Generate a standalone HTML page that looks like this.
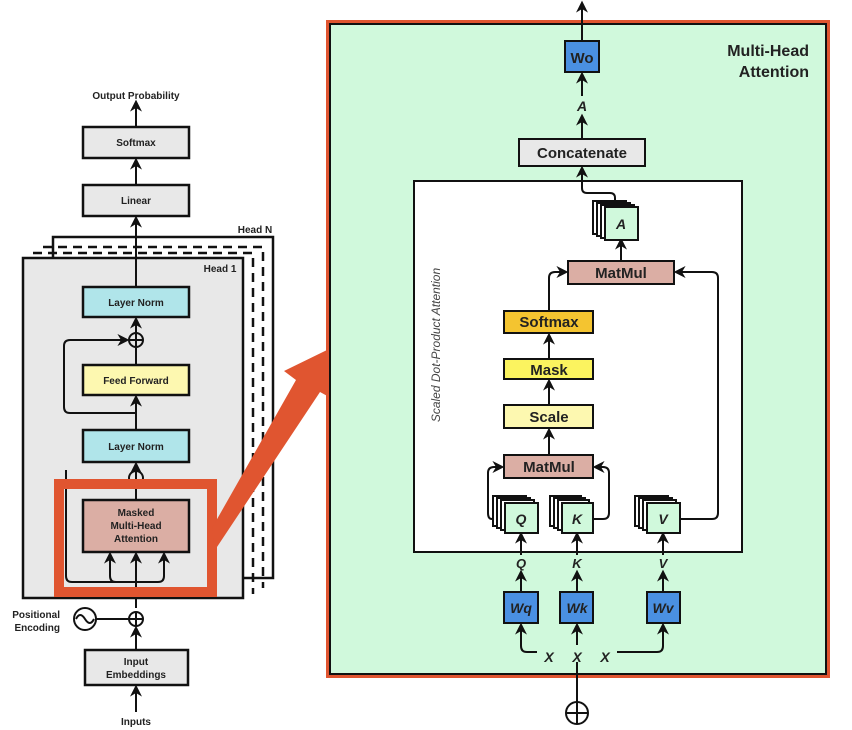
<!DOCTYPE html>
<html><head><meta charset="utf-8"><style>body{margin:0;background:#fff}svg{display:block;font-family:"Liberation Sans",sans-serif}</style></head><body>
<svg width="852" height="730" viewBox="0 0 852 730" xmlns="http://www.w3.org/2000/svg">
<defs>
<marker id="ar" viewBox="0 0 10 10" refX="8" refY="5" markerWidth="6" markerHeight="6" orient="auto-start-reverse"><path d="M0,0 L10,5 L0,10 L3,5 z" fill="#111"/></marker>
</defs>
<g stroke="#111" stroke-width="2" fill="none">
<line x1="136" y1="127" x2="136" y2="102" marker-end="url(#ar)"/>
<line x1="136" y1="185" x2="136" y2="160" marker-end="url(#ar)"/>
<rect x="53" y="237" width="220" height="341" fill="#fff" stroke-width="2.5"/>
<path d="M43 247 H263 V588" stroke-dasharray="9,6" stroke-width="2.5"/>
<path d="M33 253 H253 V594" stroke-dasharray="9,6" stroke-width="2.5"/>
<rect x="23" y="258" width="220" height="340" fill="#e8e8e8" stroke-width="2.5"/>
<line x1="136" y1="287" x2="136" y2="218" marker-end="url(#ar)"/>
<line x1="136" y1="365" x2="136" y2="348"/>
<line x1="136" y1="333" x2="136" y2="319" marker-end="url(#ar)"/>
<circle cx="136" cy="340" r="7"/><line x1="129" y1="340" x2="143" y2="340"/><line x1="136" y1="333" x2="136" y2="347"/>
<path d="M136 413 H70 Q64 413 64 407 V346 Q64 340 70 340 H127" marker-end="url(#ar)"/>
<line x1="136" y1="430" x2="136" y2="397" marker-end="url(#ar)"/>
<line x1="136" y1="500" x2="136" y2="464" marker-end="url(#ar)"/>
<circle cx="136" cy="478" r="7"/>
<line x1="136" y1="608" x2="136" y2="554" marker-end="url(#ar)"/>
<path d="M66 470 V576 Q66 582 72 582 H136"/>
<path d="M136 582 H116 Q110 582 110 576 V554" marker-end="url(#ar)"/>
<path d="M136 582 H158 Q164 582 164 576 V554" marker-end="url(#ar)"/>
<circle cx="136" cy="619" r="7"/><line x1="129" y1="619" x2="143" y2="619"/><line x1="136" y1="612" x2="136" y2="626"/>
<line x1="96" y1="619" x2="129" y2="619"/>
<circle cx="85" cy="619" r="11"/><path d="M76 619 Q80 611 85 619 Q90 627 94 619"/>
<line x1="136" y1="650" x2="136" y2="628" marker-end="url(#ar)"/>
<line x1="136" y1="712" x2="136" y2="687" marker-end="url(#ar)"/>
</g>
<g stroke="#111" stroke-width="2.5">
<rect x="83" y="127" width="106" height="31" fill="#e8e8e8"/>
<rect x="83" y="185" width="106" height="31" fill="#e8e8e8"/>
<rect x="83" y="287" width="106" height="30" fill="#b0e5ea"/>
<rect x="83" y="365" width="106" height="30" fill="#fdf8b0"/>
<rect x="83" y="430" width="106" height="32" fill="#b0e5ea"/>
<rect x="83" y="500" width="106" height="52" fill="#dbaea4"/>
<rect x="85" y="650" width="103" height="35" fill="#e8e8e8"/>
</g>
<rect x="59" y="484" width="153" height="108" fill="none" stroke="#e05530" stroke-width="10"/>
<polygon points="212,528 296,380 284,371 327,350 331,398 320,392 215,550" fill="#e05530"/>
<g font-weight="bold" font-size="10" fill="#222" text-anchor="middle">
<text x="136" y="99">Output Probability</text>
<text x="136" y="146">Softmax</text>
<text x="136" y="204">Linear</text>
<text x="136" y="306">Layer Norm</text>
<text x="136" y="384">Feed Forward</text>
<text x="136" y="450">Layer Norm</text>
<text x="136" y="516">Masked</text><text x="136" y="529">Multi-Head</text><text x="136" y="542">Attention</text>
<text x="136" y="665">Input</text><text x="136" y="678">Embeddings</text>
<text x="136" y="725">Inputs</text>
<text x="255" y="233">Head N</text>
<text x="220" y="272">Head 1</text>
<text x="60" y="618" text-anchor="end">Positional</text><text x="60" y="631" text-anchor="end">Encoding</text>
</g>
<rect x="326" y="20" width="504" height="658" fill="#e05530"/>
<rect x="330" y="24" width="496" height="650" fill="#d0f9dc" stroke="#111" stroke-width="2"/>
<g stroke="#111" stroke-width="2" fill="none">
<line x1="582" y1="41" x2="582" y2="3" marker-end="url(#ar)"/>
<line x1="582" y1="96" x2="582" y2="74" marker-end="url(#ar)"/>
<line x1="582" y1="139" x2="582" y2="116" marker-end="url(#ar)"/>
<rect x="414" y="181" width="328" height="371" fill="#fff"/>
<path d="M615 205 V198 Q615 193 610 193 H587 Q582 193 582 188 V168" marker-end="url(#ar)"/>
<line x1="621" y1="261" x2="621" y2="240" marker-end="url(#ar)"/>
<path d="M549 311 V278 Q549 272 555 272 H566" marker-end="url(#ar)"/>
<path d="M680 519 H712 Q718 519 718 513 V278 Q718 272 712 272 H676" marker-end="url(#ar)"/>
<line x1="549" y1="359" x2="549" y2="335" marker-end="url(#ar)"/>
<line x1="549" y1="405" x2="549" y2="381" marker-end="url(#ar)"/>
<line x1="549" y1="455" x2="549" y2="430" marker-end="url(#ar)"/>
<path d="M493 519 H492 Q488 519 488 513 V473 Q488 467 494 467 H502" marker-end="url(#ar)"/>
<path d="M593 519 H603 Q609 519 609 513 V473 Q609 467 603 467 H595" marker-end="url(#ar)"/>
<line x1="521" y1="555" x2="521" y2="534" marker-end="url(#ar)"/>
<line x1="577" y1="555" x2="577" y2="534" marker-end="url(#ar)"/>
<line x1="663" y1="555" x2="663" y2="534" marker-end="url(#ar)"/>
<line x1="521" y1="592" x2="521" y2="572" marker-end="url(#ar)"/>
<line x1="577" y1="592" x2="577" y2="572" marker-end="url(#ar)"/>
<line x1="663" y1="592" x2="663" y2="572" marker-end="url(#ar)"/>
<path d="M537 652 H527 Q521 652 521 646 V625" marker-end="url(#ar)"/>
<line x1="577" y1="645" x2="577" y2="625" marker-end="url(#ar)"/>
<path d="M617 652 H657 Q663 652 663 646 V625" marker-end="url(#ar)"/>
<line x1="577" y1="662" x2="577" y2="702"/>
<circle cx="577" cy="713" r="11"/><line x1="566" y1="713" x2="588" y2="713"/><line x1="577" y1="702" x2="577" y2="724"/>
</g>
<g stroke="#111" stroke-width="2">
<rect x="565" y="41" width="34" height="31" fill="#4a90e2"/>
<rect x="519" y="139" width="126" height="27" fill="#e8e8e8"/>
<rect x="593" y="201" width="33" height="33" fill="#fff"/><rect x="597" y="203" width="33" height="33" fill="#fff"/><rect x="601" y="205" width="33" height="33" fill="#fff"/><rect x="605" y="207" width="33" height="33" fill="#d0f9dc"/>
<rect x="568" y="261" width="106" height="23" fill="#dbaea4"/>
<rect x="504" y="311" width="89" height="22" fill="#f4c430"/>
<rect x="504" y="359" width="89" height="20" fill="#fbf35f"/>
<rect x="504" y="405" width="89" height="23" fill="#fdf8b0"/>
<rect x="504" y="455" width="89" height="23" fill="#dbaea4"/>
<rect x="493" y="496" width="33" height="30" fill="#fff"/><rect x="497" y="498" width="33" height="30" fill="#fff"/><rect x="501" y="500" width="33" height="30" fill="#fff"/><rect x="505" y="503" width="33" height="30" fill="#d0f9dc"/>
<rect x="550" y="496" width="31" height="30" fill="#fff"/><rect x="554" y="498" width="31" height="30" fill="#fff"/><rect x="558" y="500" width="31" height="30" fill="#fff"/><rect x="562" y="503" width="31" height="30" fill="#d0f9dc"/>
<rect x="635" y="496" width="33" height="30" fill="#fff"/><rect x="639" y="498" width="33" height="30" fill="#fff"/><rect x="643" y="500" width="33" height="30" fill="#fff"/><rect x="647" y="503" width="33" height="30" fill="#d0f9dc"/>
<rect x="504" y="592" width="34" height="31" fill="#4a90e2"/>
<rect x="560" y="592" width="33" height="31" fill="#4a90e2"/>
<rect x="647" y="592" width="33" height="31" fill="#4a90e2"/>
</g>
<g font-weight="bold" fill="#222" text-anchor="middle">
<text x="582" y="63" font-size="15">Wo</text>
<text x="582" y="111" font-size="14" font-style="italic">A</text>
<text x="582" y="158" font-size="15">Concatenate</text>
<text x="621" y="229" font-size="14" font-style="italic">A</text>
<text x="621" y="278" font-size="15">MatMul</text>
<text x="549" y="327" font-size="15">Softmax</text>
<text x="549" y="375" font-size="15">Mask</text>
<text x="549" y="422" font-size="15">Scale</text>
<text x="549" y="472" font-size="15">MatMul</text>
<text x="521" y="524" font-size="14" font-style="italic">Q</text>
<text x="577" y="524" font-size="14" font-style="italic">K</text>
<text x="663" y="524" font-size="14" font-style="italic">V</text>
<text x="521" y="568" font-size="13" font-style="italic">Q</text>
<text x="577" y="568" font-size="13" font-style="italic">K</text>
<text x="663" y="568" font-size="13" font-style="italic">V</text>
<text x="521" y="613" font-size="14" font-style="italic">Wq</text>
<text x="577" y="613" font-size="14" font-style="italic">Wk</text>
<text x="663" y="613" font-size="14" font-style="italic">Wv</text>
<text x="549" y="662" font-size="14" font-style="italic">X</text>
<text x="577" y="662" font-size="14" font-style="italic">X</text>
<text x="605" y="662" font-size="14" font-style="italic">X</text>
<text x="809" y="56" font-size="16" text-anchor="end">Multi-Head</text>
<text x="809" y="77" font-size="16" text-anchor="end">Attention</text>
</g>
<text transform="translate(440,345) rotate(-90)" text-anchor="middle" font-size="12" font-style="italic" fill="#444">Scaled Dot-Product Attention</text>
</svg>
</body></html>
